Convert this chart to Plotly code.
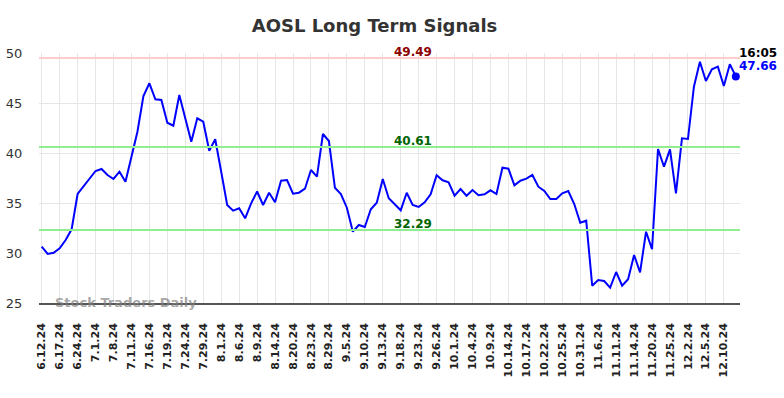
import plotly.graph_objects as go

dates = [
    "6.12.24", "6.13.24", "6.14.24", "6.17.24", "6.18.24", "6.20.24",
    "6.24.24", "6.26.24", "6.28.24", "7.1.24", "7.3.24", "7.5.24",
    "7.8.24", "7.9.24", "7.10.24", "7.11.24", "7.12.24", "7.15.24",
    "7.16.24", "7.17.24", "7.18.24", "7.19.24", "7.22.24", "7.23.24",
    "7.24.24", "7.25.24", "7.26.24", "7.29.24", "7.30.24", "7.31.24",
    "8.1.24", "8.2.24", "8.5.24", "8.6.24", "8.7.24", "8.8.24",
    "8.9.24", "8.12.24", "8.13.24", "8.14.24", "8.15.24", "8.16.24",
    "8.20.24", "8.21.24", "8.22.24", "8.23.24", "8.26.24", "8.27.24",
    "8.29.24", "8.30.24", "9.3.24", "9.5.24", "9.6.24", "9.9.24",
    "9.10.24", "9.11.24", "9.12.24", "9.13.24", "9.16.24", "9.17.24",
    "9.18.24", "9.19.24", "9.20.24", "9.23.24", "9.24.24", "9.25.24",
    "9.26.24", "9.27.24", "9.30.24", "10.1.24", "10.2.24", "10.3.24",
    "10.4.24", "10.7.24", "10.8.24", "10.9.24", "10.10.24", "10.11.24",
    "10.14.24", "10.15.24", "10.16.24", "10.17.24", "10.18.24", "10.21.24",
    "10.22.24", "10.23.24", "10.24.24", "10.25.24", "10.28.24", "10.30.24",
    "10.31.24", "11.4.24", "11.5.24", "11.6.24", "11.7.24", "11.8.24",
    "11.11.24", "11.12.24", "11.13.24", "11.14.24", "11.15.24", "11.19.24",
    "11.20.24", "11.21.24", "11.22.24", "11.25.24", "11.26.24", "11.27.24",
    "12.2.24", "12.3.24", "12.4.24", "12.5.24", "12.6.24", "12.9.24",
    "12.10.24", "12.11.24", "12.12.24",
]

prices = [
    30.63, 29.90, 30.03, 30.47, 31.30, 32.37, 35.90, 36.63, 37.40, 38.20,
    38.40, 37.80, 37.40, 38.13, 37.13, 39.63, 42.13, 45.70, 46.97, 45.37,
    45.30, 43.03, 42.73, 45.80, 43.37, 41.13, 43.47, 43.13, 40.23, 41.37,
    38.13, 34.80, 34.23, 34.47, 33.47, 34.97, 36.15, 34.80, 36.03, 35.07,
    37.23, 37.30, 35.93, 36.03, 36.43, 38.30, 37.63, 41.90, 41.20, 36.53,
    35.90, 34.53, 32.13, 32.80, 32.60, 34.37, 35.03, 37.40, 35.47, 34.90,
    34.27, 36.03, 34.80, 34.60, 35.07, 35.87, 37.77, 37.27, 37.07, 35.73,
    36.40, 35.73, 36.30, 35.77, 35.87, 36.27, 35.90, 38.53, 38.43, 36.77,
    37.23, 37.43, 37.80, 36.63, 36.20, 35.40, 35.40, 35.97, 36.20, 34.90,
    33.03, 33.23, 26.73, 27.30, 27.20, 26.53, 28.10, 26.73, 27.37, 29.80,
    28.07, 32.13, 30.37, 40.40, 38.63, 40.37, 35.97, 41.47, 41.40, 46.63,
    49.13, 47.20, 48.37, 48.63, 46.70, 48.87, 47.66,
]

tick_labels = [
    "6.12.24", "6.17.24", "6.24.24", "7.1.24", "7.8.24", "7.11.24",
    "7.16.24", "7.19.24", "7.24.24", "7.29.24", "8.1.24", "8.6.24",
    "8.9.24", "8.14.24", "8.20.24", "8.23.24", "8.29.24", "9.5.24",
    "9.10.24", "9.13.24", "9.18.24", "9.23.24", "9.26.24", "10.1.24",
    "10.4.24", "10.9.24", "10.14.24", "10.17.24", "10.22.24", "10.25.24",
    "10.31.24", "11.6.24", "11.11.24", "11.14.24", "11.20.24", "11.25.24",
    "12.2.24", "12.5.24", "12.10.24",
]

resistance = 49.49
mid_level = 40.61
support = 32.29
last_time = "16:05"

FONT = "DejaVu Sans"
n = len(dates)

fig = go.Figure()

fig.add_trace(go.Scatter(
    x=dates, y=prices, mode="lines",
    line=dict(color="#0000ff", width=2), hoverinfo="skip", showlegend=False,
))
fig.add_trace(go.Scatter(
    x=[dates[-1]], y=[prices[-1]], mode="markers",
    marker=dict(color="#0000ff", size=8), hoverinfo="skip", showlegend=False,
))

for lvl, col in [(resistance, "#ffcccc"), (mid_level, "#90ee90"), (support, "#90ee90")]:
    fig.add_shape(type="line", xref="paper", x0=0, x1=1, y0=lvl, y1=lvl,
                  line=dict(color=col, width=2), layer="above")

for lvl, col in [(resistance, "#8b0000"), (mid_level, "#006400"), (support, "#006400")]:
    fig.add_annotation(x=dates[62], y=lvl, text=f"<b>{lvl:.2f}</b>", showarrow=False,
                       yanchor="bottom", yshift=-3, font=dict(family=FONT, size=12, color=col))

fig.add_annotation(x=1, xref="paper", y=prices[-1], text=f"<b>{last_time}</b>",
                   showarrow=False, xanchor="right", yanchor="middle", xshift=39, yshift=23,
                   font=dict(family=FONT, size=12, color="#000000"))
fig.add_annotation(x=1, xref="paper", y=prices[-1], text=f"<b>{prices[-1]:.2f}</b>",
                   showarrow=False, xanchor="right", yanchor="middle", xshift=39, yshift=10,
                   font=dict(family=FONT, size=12, color="#0000ff"))

fig.add_annotation(x=0.02, xref="paper", y=25, yref="y", text="<b>Stock Traders Daily</b>",
                   showarrow=False, xanchor="left", yanchor="middle", yshift=1,
                   font=dict(family=FONT, size=13, color="rgba(128,128,128,0.7)"))

fig.update_layout(
    width=784, height=398,
    margin=dict(l=39, r=44, t=53, b=95, autoexpand=False),
    paper_bgcolor="white", plot_bgcolor="white",
    title=dict(text="<b>AOSL Long Term Signals</b>", x=374.5 / 784, xanchor="center",
               y=1 - 26 / 398, yanchor="middle",
               font=dict(family=FONT, size=18, color="#333333")),
    xaxis=dict(
        type="category", categoryorder="array", categoryarray=dates,
        range=[-0.45, n - 1 + 0.7],
        tickmode="array", tickvals=tick_labels,
        ticktext=[f"<b>{t}</b>" for t in tick_labels],
        tickangle=-90, tickfont=dict(family=FONT, size=11, color="#222222"),
        ticks="outside", ticklen=14, tickcolor="rgba(0,0,0,0)",
        showgrid=True, gridcolor="#e6e6e6", gridwidth=1,
        showline=True, linecolor="#555555", linewidth=1.5,
        zeroline=False, fixedrange=True, automargin=False,
    ),
    yaxis=dict(
        range=[25, 50], tickvals=[25, 30, 35, 40, 45, 50],
        tickfont=dict(family=FONT, size=13, color="#333333"),
        ticks="outside", ticklen=13, tickcolor="rgba(0,0,0,0)",
        showgrid=True, gridcolor="#e6e6e6", gridwidth=1,
        showline=False, zeroline=False,
        fixedrange=True, automargin=False,
    ),
)

fig.write_html(
    "out.html",
    config={"displayModeBar": False},
    post_script="document.body.style.margin='0';document.body.style.overflow='hidden';",
)
